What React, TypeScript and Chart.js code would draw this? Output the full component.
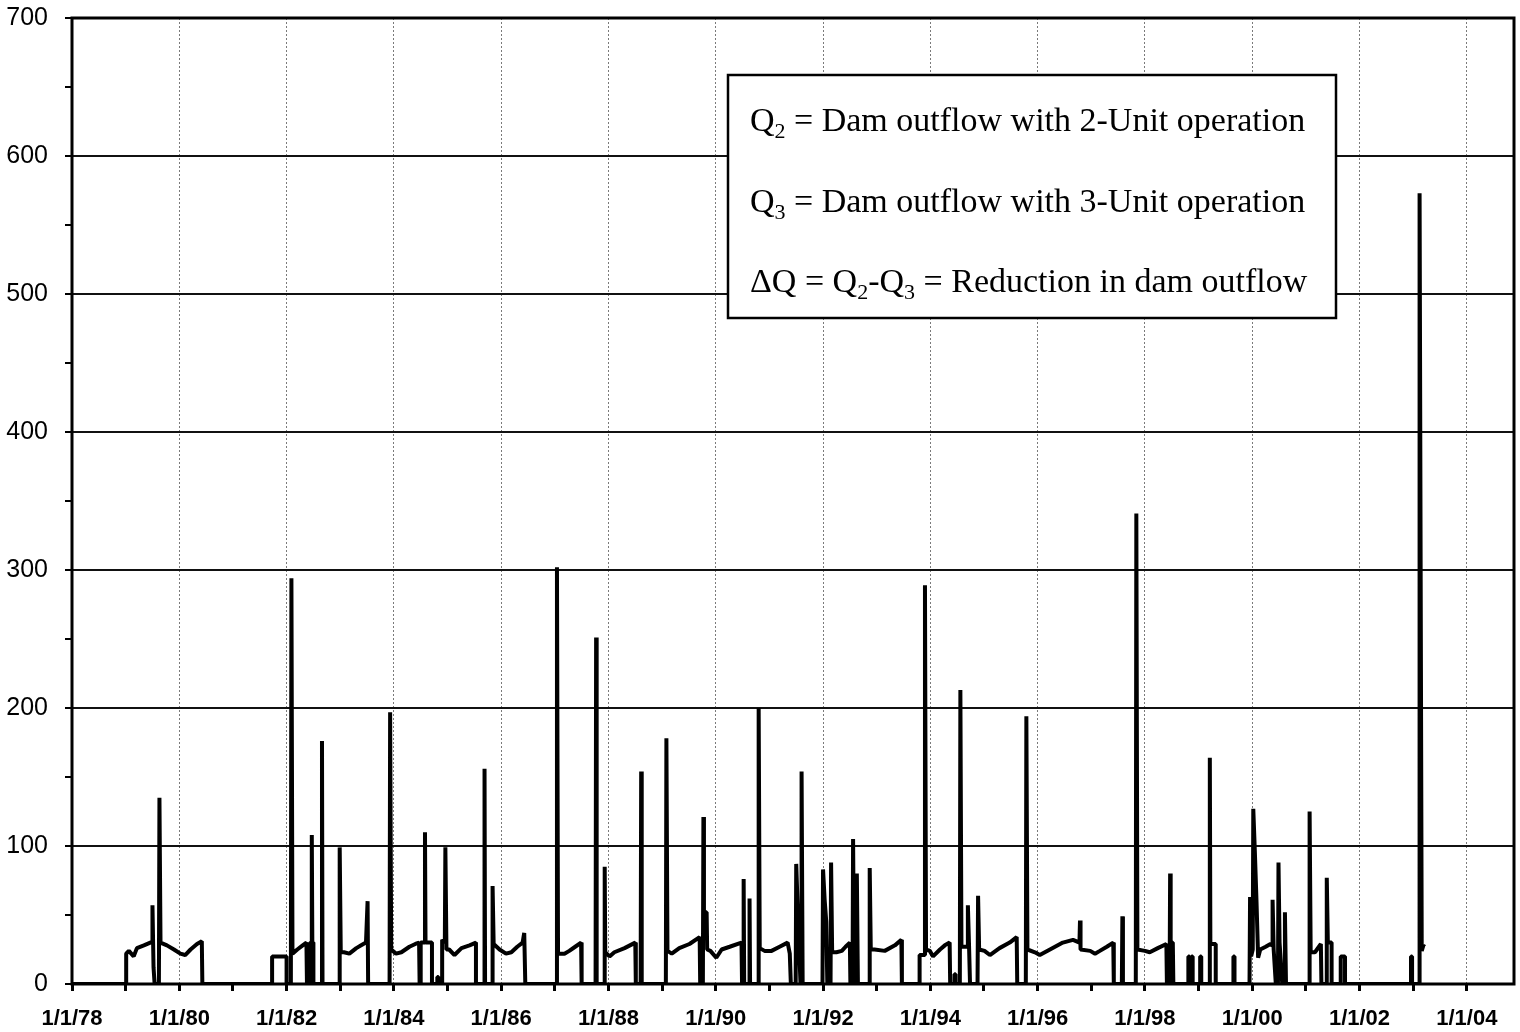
import React, { useEffect, useRef } from 'react';
import { Chart, registerables } from 'chart.js';

Chart.register(...registerables);

// Minor tick positions on the date axis (1 January of each year)
const yearTicks: number[] = [
  1978, 1979, 1980, 1981, 1982, 1983, 1984, 1985, 1986, 1987, 1988, 1989, 1990,
  1991, 1992, 1993, 1994, 1995, 1996, 1997, 1998, 1999, 2000, 2001, 2002, 2003, 2004,
];
// Labelled dates
const labelYears: number[] = [1978, 1980, 1982, 1984, 1986, 1988, 1990, 1992, 1994, 1996, 1998, 2000, 2002, 2004];
// Value axis ticks (minor every 50, labelled every 100)
const yTicks: number[] = [0, 50, 100, 150, 200, 250, 300, 350, 400, 450, 500, 550, 600, 650, 700];
const yLabels: number[] = [0, 100, 200, 300, 400, 500, 600, 700];

// Legend text lines: [text, isSubscript]
const legendLines: [string, boolean][][] = [
  [['Q', false], ['2', true], [' = Dam outflow with 2-Unit operation', false]],
  [['Q', false], ['3', true], [' = Dam outflow with 3-Unit operation', false]],
  [['\u0394Q = Q', false], ['2', true], ['-Q', false], ['3', true], [' = Reduction in dam outflow', false]],
];

// Reduction in dam outflow (decimal year, value)
const deltaQ: [number, number][] = [
  [1978.0, 0],
  [1979.01, 0], [1979.01, 22], [1979.06, 24], [1979.15, 20], [1979.21, 26], [1979.34, 28], [1979.46, 30], [1979.5, 30], [1979.5, 57], [1979.52, 12], [1979.54, 0],
  [1979.62, 0], [1979.63, 135], [1979.65, 30], [1979.77, 28], [1979.9, 25], [1980.02, 22], [1980.11, 21], [1980.21, 25], [1980.33, 29], [1980.42, 31], [1980.43, 0],
  [1981.73, 0], [1981.73, 20], [1982.0, 20], [1982.0, 0],
  [1982.08, 0], [1982.09, 294], [1982.11, 22], [1982.2, 25], [1982.3, 28], [1982.37, 30], [1982.38, 0],
  [1982.44, 0], [1982.44, 30], [1982.46, 30], [1982.47, 108], [1982.48, 30], [1982.5, 30], [1982.5, 0],
  [1982.65, 0], [1982.66, 176], [1982.67, 0],
  [1982.99, 0], [1982.99, 99], [1983.01, 23], [1983.07, 23], [1983.17, 22], [1983.3, 26], [1983.39, 28], [1983.48, 30], [1983.51, 60], [1983.52, 0],
  [1983.92, 0], [1983.93, 197], [1983.95, 25], [1984.04, 22], [1984.14, 23], [1984.29, 27], [1984.4, 29], [1984.47, 30], [1984.48, 0],
  [1984.5, 0], [1984.5, 30], [1984.57, 30], [1984.58, 110], [1984.59, 30], [1984.71, 30], [1984.71, 0],
  [1984.81, 0], [1984.81, 5], [1984.83, 5], [1984.83, 0],
  [1984.9, 0], [1984.9, 32], [1984.95, 30], [1984.96, 99], [1984.98, 25], [1985.03, 25], [1985.13, 21], [1985.26, 26], [1985.41, 28], [1985.53, 30], [1985.53, 0],
  [1985.68, 0], [1985.69, 156], [1985.7, 0],
  [1985.84, 0], [1985.84, 71], [1985.86, 29], [1985.97, 25], [1986.09, 22], [1986.19, 23], [1986.3, 27], [1986.4, 30], [1986.43, 37], [1986.45, 0],
  [1987.03, 0], [1987.04, 302], [1987.06, 22], [1987.18, 22], [1987.27, 24], [1987.38, 27], [1987.49, 30], [1987.5, 0],
  [1987.76, 0], [1987.77, 251], [1987.78, 0],
  [1987.92, 0], [1987.93, 85], [1987.94, 23], [1988.02, 20], [1988.11, 23], [1988.3, 26], [1988.5, 30], [1988.51, 0],
  [1988.6, 0], [1988.61, 154], [1988.62, 0],
  [1989.07, 0], [1989.08, 178], [1989.1, 24], [1989.18, 22], [1989.32, 26], [1989.51, 29], [1989.7, 34], [1989.71, 0],
  [1989.76, 0], [1989.77, 121], [1989.78, 52], [1989.83, 52], [1989.84, 25], [1989.9, 24], [1990.01, 19], [1990.11, 25], [1990.26, 27], [1990.48, 30], [1990.49, 0],
  [1990.52, 0], [1990.52, 76], [1990.53, 0],
  [1990.62, 0], [1990.63, 62], [1990.64, 0],
  [1990.79, 0], [1990.8, 200], [1990.82, 26], [1990.91, 24], [1991.04, 24], [1991.19, 27], [1991.34, 30], [1991.38, 22], [1991.4, 0],
  [1991.49, 0], [1991.5, 87], [1991.53, 52], [1991.58, 0], [1991.59, 0], [1991.6, 154], [1991.62, 0],
  [1991.99, 0], [1992.0, 83], [1992.03, 61], [1992.06, 45], [1992.08, 0], [1992.14, 0], [1992.15, 88], [1992.17, 23], [1992.25, 23], [1992.35, 24], [1992.42, 27], [1992.5, 30], [1992.51, 0],
  [1992.55, 0], [1992.56, 105], [1992.58, 0], [1992.62, 0], [1992.63, 80], [1992.65, 0],
  [1992.86, 0], [1992.87, 84], [1992.89, 25], [1992.96, 25], [1993.15, 24], [1993.34, 28], [1993.46, 32], [1993.47, 0],
  [1993.8, 0], [1993.8, 21], [1993.89, 21], [1993.9, 289], [1993.92, 25], [1993.99, 24], [1994.05, 20], [1994.18, 25], [1994.27, 28], [1994.36, 30], [1994.37, 0],
  [1994.45, 0], [1994.45, 7], [1994.47, 7], [1994.47, 0],
  [1994.55, 0], [1994.56, 213], [1994.58, 27], [1994.69, 27], [1994.7, 57], [1994.72, 30], [1994.74, 0],
  [1994.88, 0], [1994.89, 64], [1994.91, 25], [1995.01, 24], [1995.11, 21], [1995.29, 26], [1995.48, 30], [1995.61, 34], [1995.62, 0],
  [1995.78, 0], [1995.79, 194], [1995.81, 25], [1995.95, 23], [1996.04, 21], [1996.23, 25], [1996.47, 30], [1996.66, 32], [1996.78, 30], [1996.79, 46], [1996.8, 25], [1996.98, 24], [1997.07, 22], [1997.16, 24], [1997.29, 27], [1997.41, 30], [1997.42, 0],
  [1997.57, 0], [1997.58, 49], [1997.59, 0],
  [1997.83, 0], [1997.84, 341], [1997.86, 25], [1998.0, 24], [1998.09, 23], [1998.24, 26], [1998.4, 29], [1998.41, 0],
  [1998.46, 0], [1998.47, 80], [1998.48, 30], [1998.52, 30], [1998.53, 0],
  [1998.81, 0], [1998.81, 20], [1998.83, 20], [1998.83, 0], [1998.87, 0], [1998.87, 20], [1998.89, 20], [1998.89, 0],
  [1999.03, 0], [1999.03, 20], [1999.05, 20], [1999.05, 0],
  [1999.2, 0], [1999.21, 164], [1999.22, 29], [1999.32, 29], [1999.32, 0],
  [1999.65, 0], [1999.65, 20], [1999.67, 20], [1999.67, 0],
  [1999.95, 0], [1999.96, 63], [1999.98, 20], [2000.01, 25], [2000.02, 127], [2000.05, 95], [2000.08, 60], [2000.11, 19], [2000.15, 25], [2000.25, 27], [2000.34, 29], [2000.37, 28], [2000.38, 61], [2000.4, 25], [2000.44, 0],
  [2000.48, 0], [2000.49, 88], [2000.51, 30], [2000.56, 0], [2000.6, 0], [2000.61, 52], [2000.63, 0],
  [2001.06, 0], [2001.07, 125], [2001.09, 23], [2001.17, 23], [2001.28, 29], [2001.29, 0], [2001.38, 0], [2001.39, 77], [2001.41, 30], [2001.48, 30], [2001.48, 0],
  [2001.65, 0], [2001.65, 20], [2001.73, 20], [2001.73, 0],
  [2002.96, 0], [2002.96, 20], [2002.98, 20], [2002.98, 0],
  [2003.11, 0], [2003.12, 573], [2003.16, 24], [2003.19, 28], [2003.21, 27],
];

const X_MIN = 1978;
const X_MAX = 2004.88;

const framePlugin = {
  id: 'plotFrame',
  afterDatasetsDraw(chart: any) {
    const { ctx, chartArea } = chart;
    ctx.save();
    ctx.strokeStyle = '#000';
    ctx.lineWidth = 3;
    ctx.strokeRect(chartArea.left, chartArea.top, chartArea.right - chartArea.left, chartArea.bottom - chartArea.top);
    ctx.restore();
  },
};

const legendBoxPlugin = {
  id: 'legendBox',
  afterDraw(chart: any) {
    const ctx: CanvasRenderingContext2D = chart.ctx;
    const bx = 728, by = 75, bw = 608, bh = 243;
    ctx.save();
    ctx.fillStyle = '#fff';
    ctx.fillRect(bx, by, bw, bh);
    ctx.strokeStyle = '#000';
    ctx.lineWidth = 2.5;
    ctx.strokeRect(bx, by, bw, bh);
    ctx.fillStyle = '#000';
    ctx.textBaseline = 'alphabetic';
    ctx.textAlign = 'left';
    const mainFont = '34px "Liberation Serif", "Times New Roman", serif';
    const subFont = '22px "Liberation Serif", "Times New Roman", serif';
    const baselines = [131, 212, 292];
    legendLines.forEach((line, i) => {
      let x = 750;
      const y = baselines[i];
      line.forEach(([txt, sub]) => {
        ctx.font = sub ? subFont : mainFont;
        ctx.fillText(txt, x, sub ? y + 7 : y);
        x += ctx.measureText(txt).width;
      });
    });
    ctx.restore();
  },
};

export default function App() {
  const canvasRef = useRef<HTMLCanvasElement | null>(null);

  useEffect(() => {
    const canvas = canvasRef.current;
    if (!canvas) return;
    const chart = new Chart(canvas, {
      type: 'line',
      data: {
        datasets: [
          {
            label: 'ΔQ',
            data: deltaQ.map(([x, y]) => ({ x, y })),
            borderColor: '#000',
            borderWidth: 4,
            pointRadius: 0,
            tension: 0,
            fill: false,
            borderJoinStyle: 'bevel',
            borderCapStyle: 'butt',
          } as any,
        ],
      },
      options: {
        responsive: false,
        animation: false,
        devicePixelRatio: 1,
        layout: { padding: { top: 18, right: 6, left: 0, bottom: 0 } },
        plugins: {
          legend: { display: false },
          tooltip: { enabled: false },
          title: { display: false },
        },
        scales: {
          x: {
            type: 'linear',
            min: X_MIN,
            max: X_MAX,
            afterBuildTicks: (s: any) => {
              s.ticks = yearTicks.map((v) => ({ value: v }));
            },
            afterFit: (s: any) => {
              s.height = 48;
              s.paddingLeft = 0;
              s.paddingRight = 0;
            },
            ticks: {
              autoSkip: false,
              maxRotation: 0,
              minRotation: 0,
              padding: 15,
              color: '#000',
              font: { family: '"Liberation Sans", Arial, sans-serif', size: 22, weight: 'bold' },
              callback: (v: any) =>
                labelYears.includes(Number(v)) ? `1/1/${String(Number(v) % 100).padStart(2, '0')}` : '',
            },
            grid: {
              color: (c: any) => (c.tick && labelYears.includes(c.tick.value) ? '#7a7a7a' : 'rgba(0,0,0,0)'),
              lineWidth: 1,
              tickLength: 7,
              tickWidth: 3,
              tickColor: '#000',
            },
            border: { display: false, dash: [2, 2] },
          },
          y: {
            type: 'linear',
            min: 0,
            max: 700,
            afterBuildTicks: (s: any) => {
              s.ticks = yTicks.map((v) => ({ value: v }));
            },
            afterFit: (s: any) => {
              s.width = 72;
              s.paddingTop = 0;
              s.paddingBottom = 0;
            },
            ticks: {
              padding: 17,
              color: '#000',
              font: { family: '"Liberation Sans", Arial, sans-serif', size: 25 },
              callback: (v: any) => (yLabels.includes(Number(v)) ? String(v) : ''),
            },
            grid: {
              color: (c: any) => (c.tick && yLabels.includes(c.tick.value) ? '#111' : 'rgba(0,0,0,0)'),
              lineWidth: 2,
              tickLength: 7,
              tickWidth: 2,
              tickColor: '#000',
            },
            border: { display: false },
          },
        },
      } as any,
      plugins: [framePlugin, legendBoxPlugin],
    });
    return () => chart.destroy();
  }, []);

  return (
    <div style={{ position: 'fixed', left: 0, top: 0, width: 1520, height: 1032, background: '#fff' }}>
      <canvas ref={canvasRef} width={1520} height={1032} style={{ display: 'block' }} />
    </div>
  );
}
